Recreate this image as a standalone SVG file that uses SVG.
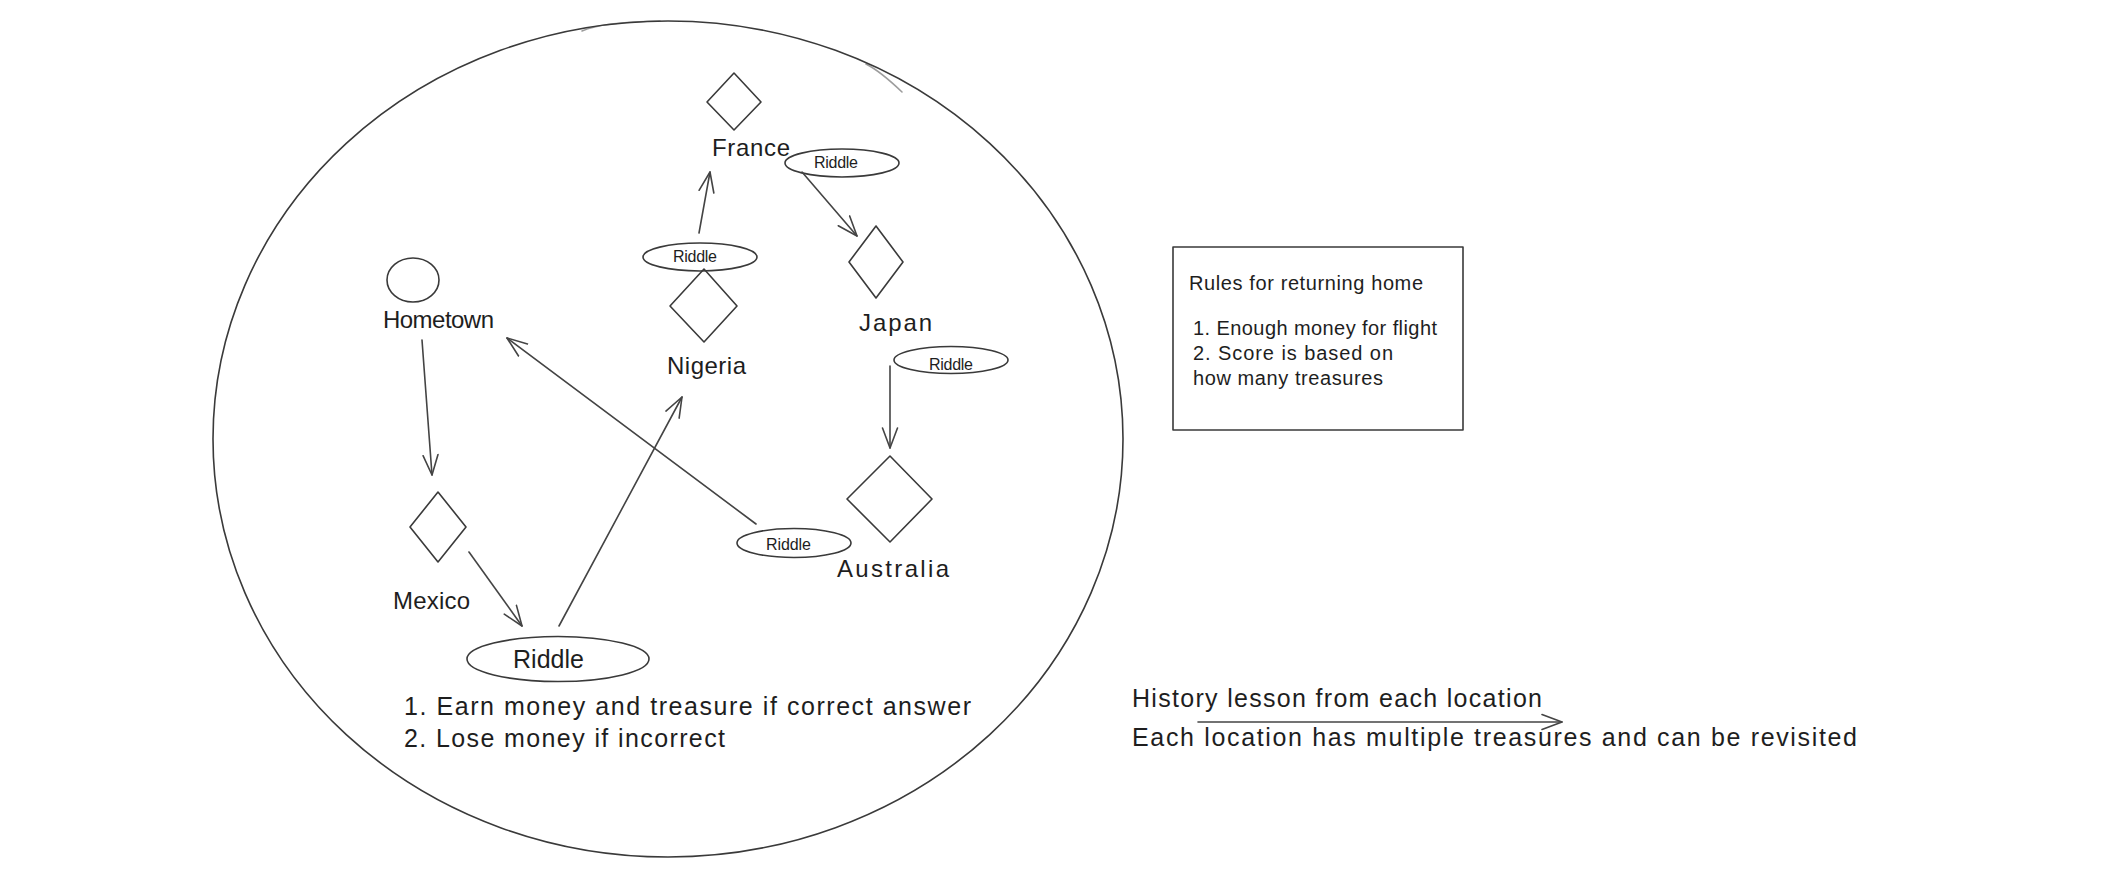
<svg xmlns="http://www.w3.org/2000/svg" width="2124" height="882" viewBox="0 0 2124 882">
<style>
.s{fill:none;stroke:#3a3a3a;stroke-width:1.6;stroke-linecap:round;stroke-linejoin:round}
.c{fill:none;stroke:#444;stroke-width:1.6;stroke-linecap:round}
.t{font-family:"Liberation Sans",Arial,sans-serif;fill:#1e1e1e}
.lbl{font-size:24px}
.sm{font-size:16px}
.note{font-size:25px}
.rule{font-size:20px}
</style>
<defs>
<marker id="arr" markerUnits="userSpaceOnUse" markerWidth="24" markerHeight="24" viewBox="0 0 24 24" refX="21" refY="12" orient="auto">
<path d="M1,4.5 L21,12 L1,19.5" fill="none" stroke="#444" stroke-width="1.6" stroke-linecap="round" stroke-linejoin="round"/>
</marker>
</defs>
<rect width="2124" height="882" fill="#ffffff"/>

<g id="world">
<ellipse class="s" cx="668" cy="439" rx="455" ry="418"/>
<path class="s" d="M582,31 Q602,22 660,21" opacity="0.5"/>
<path class="s" d="M866,64 Q880,71 902,92" opacity="0.5"/>
</g>

<g id="hometown">
<ellipse class="s" cx="413" cy="280" rx="26" ry="22"/>
<text class="t lbl" x="383" y="328" textLength="111">Hometown</text>
</g>

<g id="mexico">
<polygon class="s" points="438,492 466,527 438,562 410,527"/>
<text class="t lbl" x="393" y="609" textLength="77">Mexico</text>
</g>

<g id="riddle-main">
<ellipse class="s" cx="558" cy="659" rx="91" ry="22.5"/>
<text class="t" style="font-size:25px" x="513" y="668" textLength="71">Riddle</text>
</g>

<g id="riddle-rules">
<text class="t note" x="404" y="715" textLength="567">1. Earn money and treasure if correct answer</text>
<text class="t note" x="404" y="747" textLength="321">2. Lose money if incorrect</text>
</g>

<g id="nigeria">
<polygon class="s" points="704,269 737,306 704,342 670,306"/>
<text class="t lbl" x="667" y="374" textLength="79">Nigeria</text>
</g>

<g id="riddle-nigeria">
<ellipse class="s" cx="700" cy="257" rx="57" ry="14"/>
<text class="t sm" x="673" y="262" textLength="44">Riddle</text>
</g>

<g id="france">
<polygon class="s" points="734,73 761,102 734,130 707,102"/>
<text class="t lbl" x="712" y="156" textLength="78">France</text>
</g>

<g id="riddle-france">
<ellipse class="s" cx="842" cy="163" rx="57" ry="14"/>
<text class="t sm" x="814" y="168" textLength="44">Riddle</text>
</g>

<g id="japan">
<polygon class="s" points="876,226 903,262 876,298 849,262"/>
<text class="t lbl" x="859" y="331" textLength="73">Japan</text>
</g>

<g id="riddle-japan">
<ellipse class="s" cx="951" cy="360" rx="57" ry="13.5"/>
<text class="t sm" x="929" y="370" textLength="44">Riddle</text>
</g>

<g id="australia">
<polygon class="s" points="890,456 932,499 890,542 847,499"/>
<text class="t lbl" x="837" y="577" textLength="112">Australia</text>
</g>

<g id="riddle-australia">
<ellipse class="s" cx="794" cy="543" rx="57" ry="14.5"/>
<text class="t sm" x="766" y="550" textLength="45">Riddle</text>
</g>

<g id="rules-box">
<rect class="s" x="1173" y="247" width="290" height="183"/>
<text class="t rule" x="1189" y="290" textLength="234">Rules for returning home</text>
<text class="t rule" x="1193" y="335" textLength="244">1. Enough money for flight</text>
<text class="t rule" x="1193" y="360" textLength="200">2. Score is based on</text>
<text class="t rule" x="1193" y="385" textLength="190">how many treasures</text>
</g>

<g id="notes">
<text class="t note" x="1132" y="707" textLength="410">History lesson from each location</text>
<text class="t note" x="1132" y="746" textLength="725">Each location has multiple treasures and can be revisited</text>
</g>

<g id="connectors">
<line class="c" x1="422" y1="340" x2="432" y2="475" marker-end="url(#arr)"/>
<line class="c" x1="469" y1="552" x2="522" y2="626" marker-end="url(#arr)"/>
<line class="c" x1="559" y1="626" x2="682" y2="397" marker-end="url(#arr)"/>
<line class="c" x1="699" y1="233" x2="710" y2="172" marker-end="url(#arr)"/>
<line class="c" x1="802" y1="172" x2="857" y2="236" marker-end="url(#arr)"/>
<line class="c" x1="890" y1="366" x2="890" y2="448" marker-end="url(#arr)"/>
<line class="c" x1="756" y1="524" x2="507" y2="338" marker-end="url(#arr)"/>
<line class="c" x1="1198" y1="722" x2="1562" y2="722" marker-end="url(#arr)"/>
</g>
</svg>
